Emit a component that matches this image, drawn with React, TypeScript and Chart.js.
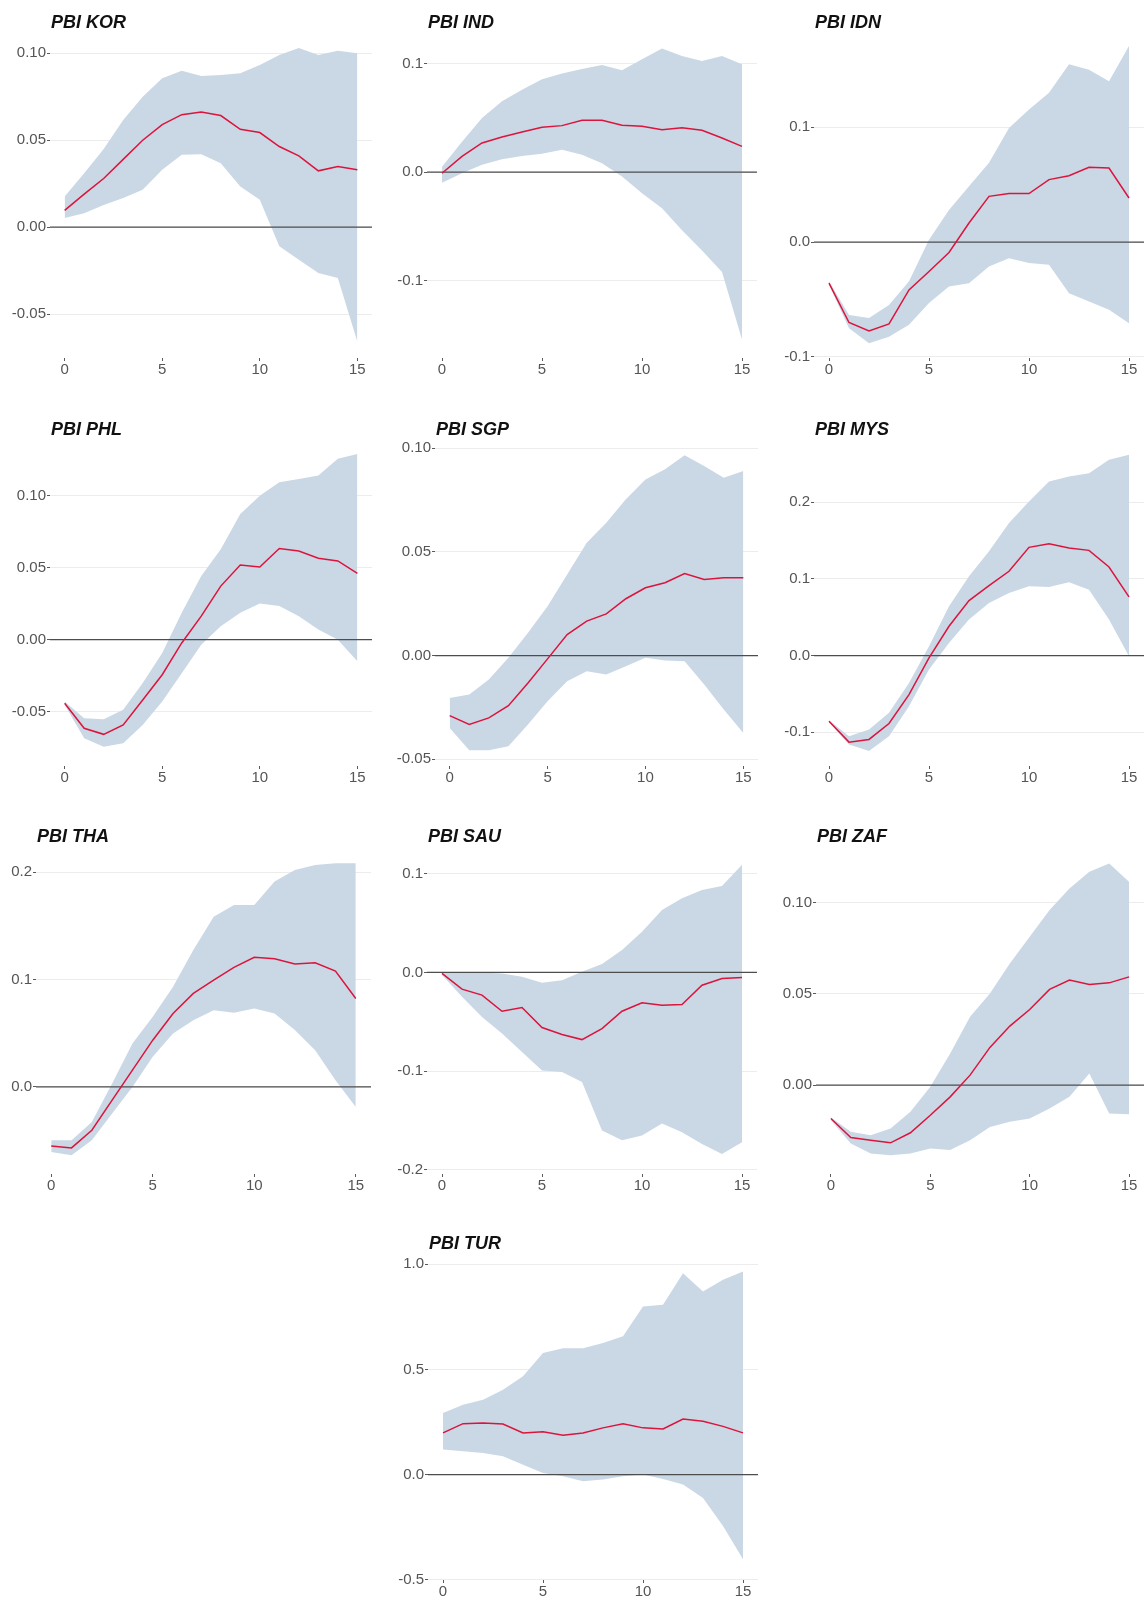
import React, { useEffect, useRef } from "react";
import { Chart, registerables } from "chart.js";

Chart.register(...registerables);

// ---------------- data ----------------
const HORIZON = [0, 1, 2, 3, 4, 5, 6, 7, 8, 9, 10, 11, 12, 13, 14, 15];
const X_TICKS = [0, 5, 10, 15];

const KOR_IRF = [0.0096, 0.019, 0.028, 0.039, 0.05, 0.059, 0.0647, 0.0663, 0.0642, 0.0563, 0.0544, 0.0464, 0.041, 0.0324, 0.0349, 0.033];
const KOR_HI = [0.0176, 0.031, 0.045, 0.0617, 0.075, 0.0857, 0.09, 0.087, 0.0876, 0.0885, 0.0933, 0.099, 0.103, 0.099, 0.1015, 0.1];
const KOR_LO = [0.0052, 0.008, 0.0128, 0.0167, 0.0215, 0.033, 0.0416, 0.042, 0.0368, 0.0234, 0.0157, -0.011, -0.0188, -0.0264, -0.0293, -0.066];

const IND_IRF = [-0.001, 0.0145, 0.0269, 0.0324, 0.037, 0.0414, 0.0429, 0.0478, 0.0478, 0.0432, 0.0423, 0.039, 0.041, 0.0386, 0.0315, 0.0238];
const IND_HI = [0.005, 0.028, 0.05, 0.0654, 0.076, 0.0855, 0.091, 0.095, 0.0988, 0.094, 0.104, 0.114, 0.107, 0.1025, 0.107, 0.0994];
const IND_LO = [-0.0096, -0.001, 0.0068, 0.012, 0.015, 0.017, 0.0207, 0.016, 0.0083, -0.004, -0.0194, -0.0333, -0.0534, -0.072, -0.092, -0.154];

const IDN_IRF = [-0.0358, -0.07, -0.0773, -0.0712, -0.0416, -0.0256, -0.009, 0.0166, 0.0398, 0.0422, 0.0422, 0.0544, 0.0578, 0.0651, 0.0645, 0.0384];
const IDN_HI = [-0.034, -0.0634, -0.066, -0.0547, -0.034, 0.002, 0.028, 0.0485, 0.069, 0.0994, 0.1154, 0.13, 0.1547, 0.15, 0.14, 0.1706];
const IDN_LO = [-0.0372, -0.075, -0.088, -0.0823, -0.072, -0.053, -0.0387, -0.0358, -0.0212, -0.014, -0.0183, -0.0198, -0.0445, -0.0517, -0.059, -0.0706];

const PHL_IRF = [-0.0442, -0.0616, -0.0658, -0.0593, -0.0419, -0.0244, -0.0023, 0.0163, 0.0372, 0.0519, 0.0505, 0.0633, 0.0616, 0.0565, 0.0547, 0.046];
const PHL_HI = [-0.043, -0.0547, -0.0553, -0.0488, -0.0302, -0.0093, 0.0186, 0.0442, 0.0628, 0.0872, 0.1, 0.1093, 0.1116, 0.114, 0.1256, 0.129];
const PHL_LO = [-0.0453, -0.0686, -0.0744, -0.072, -0.0593, -0.043, -0.0233, -0.0035, 0.0093, 0.0186, 0.0251, 0.0233, 0.0163, 0.007, 0.0, -0.0151];

const SGP_IRF = [-0.029, -0.0333, -0.0301, -0.0242, -0.0132, -0.0016, 0.0101, 0.0166, 0.0201, 0.0274, 0.0327, 0.0351, 0.0396, 0.0367, 0.0375, 0.0375];
const SGP_HI = [-0.0205, -0.0188, -0.0116, -0.0011, 0.011, 0.0238, 0.0391, 0.0544, 0.0641, 0.0754, 0.085, 0.0899, 0.0966, 0.0915, 0.0858, 0.089];
const SGP_LO = [-0.035, -0.0457, -0.0457, -0.0438, -0.0333, -0.022, -0.0124, -0.0076, -0.0092, -0.0052, -0.0011, -0.0024, -0.0027, -0.014, -0.026, -0.0374];

const MYS_IRF = [-0.0855, -0.1128, -0.1093, -0.0885, -0.0508, -0.003, 0.0382, 0.0716, 0.0911, 0.1098, 0.141, 0.1458, 0.1401, 0.1371, 0.1154, 0.0764];
const MYS_HI = [-0.0842, -0.105, -0.0963, -0.0746, -0.0356, 0.0121, 0.0642, 0.1033, 0.1358, 0.1727, 0.2009, 0.2269, 0.2334, 0.2377, 0.2551, 0.2616];
const MYS_LO = [-0.0868, -0.1158, -0.1245, -0.105, -0.0659, -0.0182, 0.0165, 0.0469, 0.0685, 0.0816, 0.0902, 0.0894, 0.0954, 0.0859, 0.0469, -0.001];

const THA_IRF = [-0.055, -0.0569, -0.0404, -0.0124, 0.0156, 0.0435, 0.0684, 0.0871, 0.0995, 0.1114, 0.1207, 0.1194, 0.1145, 0.1157, 0.1079, 0.0824];
const THA_HI = [-0.0498, -0.0498, -0.0327, 0.0031, 0.0404, 0.0653, 0.0933, 0.1275, 0.1586, 0.1695, 0.1695, 0.1913, 0.2022, 0.2068, 0.2084, 0.2084];
const THA_LO = [-0.0607, -0.0638, -0.0498, -0.0249, 0.0, 0.028, 0.0498, 0.0622, 0.0715, 0.069, 0.0731, 0.0684, 0.0529, 0.0342, 0.0062, -0.0187];

const SAU_IRF = [-0.001, -0.0169, -0.023, -0.0393, -0.0355, -0.0558, -0.0629, -0.068, -0.0569, -0.0393, -0.0308, -0.0332, -0.0325, -0.0129, -0.0061, -0.0051];
const SAU_HI = [0.0, 0.0, 0.0, -0.001, -0.0044, -0.0105, -0.0078, 0.0007, 0.0085, 0.0227, 0.0413, 0.0633, 0.0751, 0.0836, 0.0876, 0.109];
const SAU_LO = [-0.0027, -0.0247, -0.045, -0.0619, -0.0805, -0.0992, -0.1008, -0.111, -0.16, -0.17, -0.165, -0.153, -0.1618, -0.1736, -0.1838, -0.172];

const ZAF_IRF = [-0.0183, -0.0287, -0.0302, -0.0316, -0.0261, -0.0165, -0.0064, 0.0055, 0.0207, 0.0324, 0.0415, 0.0525, 0.0576, 0.0552, 0.0561, 0.0594];
const ZAF_HI = [-0.0177, -0.0256, -0.0274, -0.0238, -0.0146, -0.0009, 0.0174, 0.0375, 0.0503, 0.0667, 0.0814, 0.096, 0.1079, 0.117, 0.1216, 0.1115];
const ZAF_LO = [-0.0192, -0.032, -0.0375, -0.0384, -0.0375, -0.0347, -0.0356, -0.0302, -0.0229, -0.0201, -0.0183, -0.0128, -0.0064, 0.0064, -0.0155, -0.0159];

const TUR_IRF = [0.198, 0.242, 0.245, 0.24, 0.198, 0.204, 0.187, 0.198, 0.222, 0.242, 0.222, 0.217, 0.264, 0.253, 0.229, 0.198];
const TUR_HI = [0.293, 0.332, 0.356, 0.403, 0.467, 0.578, 0.601, 0.601, 0.625, 0.657, 0.799, 0.807, 0.957, 0.87, 0.926, 0.965];
const TUR_LO = [0.119, 0.111, 0.103, 0.087, 0.047, 0.008, -0.008, -0.032, -0.024, -0.008, 0.0, -0.021, -0.047, -0.111, -0.245, -0.403];

const TICKS_2A = [-0.05, 0, 0.05, 0.1];
const TICKS_1A = [-0.1, 0, 0.1];
const TICKS_1B = [-0.1, 0, 0.1, 0.2];
const TICKS_1C = [0, 0.1, 0.2];
const TICKS_1D = [-0.2, -0.1, 0, 0.1];
const TICKS_2B = [0, 0.05, 0.1];
const TICKS_TUR = [-0.5, 0, 0.5, 1.0];

// ---------------- layout / style ----------------
const BAND = "#cad8e6";
const LINE = "#dc143c";
const FONT = "'Liberation Sans', Arial, Helvetica, sans-serif";
const YW = 44;
const PT = 14;
const PR = 12;
const XH = 30;

type PanelCfg = {
  title: string;
  irf: number[];
  lo: number[];
  hi: number[];
  yTicks: number[];
  dec: number;
  yMin: number;
  yMax: number;
  L: number;
  R: number;
  T: number;
  B: number;
  titleY: number;
};

const PANELS: PanelCfg[] = [
  { title: "PBI KOR", irf: KOR_IRF, lo: KOR_LO, hi: KOR_HI, yTicks: TICKS_2A, dec: 2, yMin: -0.0753, yMax: 0.1117, L: 50, R: 372, T: 33, B: 358, titleY: 21.5 },
  { title: "PBI IND", irf: IND_IRF, lo: IND_LO, hi: IND_HI, yTicks: TICKS_1A, dec: 1, yMin: -0.1711, yMax: 0.1282, L: 427, R: 757, T: 33, B: 358, titleY: 21.5 },
  { title: "PBI IDN", irf: IDN_IRF, lo: IDN_LO, hi: IDN_HI, yTicks: TICKS_1A, dec: 1, yMin: -0.1009, yMax: 0.182, L: 814, R: 1144, T: 33, B: 358, titleY: 21.5 },
  { title: "PBI PHL", irf: PHL_IRF, lo: PHL_LO, hi: PHL_HI, yTicks: TICKS_2A, dec: 2, yMin: -0.0878, yMax: 0.1387, L: 50, R: 372, T: 440, B: 766, titleY: 428.5 },
  { title: "PBI SGP", irf: SGP_IRF, lo: SGP_LO, hi: SGP_HI, yTicks: TICKS_2A, dec: 2, yMin: -0.0533, yMax: 0.104, L: 435, R: 758, T: 440, B: 766, titleY: 428.5 },
  { title: "PBI MYS", irf: MYS_IRF, lo: MYS_LO, hi: MYS_HI, yTicks: TICKS_1B, dec: 1, yMin: -0.1439, yMax: 0.2809, L: 814, R: 1144, T: 440, B: 766, titleY: 428.5 },
  { title: "PBI THA", irf: THA_IRF, lo: THA_LO, hi: THA_HI, yTicks: TICKS_1C, dec: 1, yMin: -0.0812, yMax: 0.2217, L: 36, R: 371, T: 849, B: 1174, titleY: 836 },
  { title: "PBI SAU", irf: SAU_IRF, lo: SAU_LO, hi: SAU_HI, yTicks: TICKS_1D, dec: 1, yMin: -0.2041, yMax: 0.125, L: 427, R: 757, T: 849, B: 1174, titleY: 836 },
  { title: "PBI ZAF", irf: ZAF_IRF, lo: ZAF_LO, hi: ZAF_HI, yTicks: TICKS_2B, dec: 2, yMin: -0.0487, yMax: 0.1295, L: 816, R: 1144, T: 849, B: 1174, titleY: 836 },
  { title: "PBI TUR", irf: TUR_IRF, lo: TUR_LO, hi: TUR_HI, yTicks: TICKS_TUR, dec: 1, yMin: -0.5012, yMax: 1.0342, L: 428, R: 758, T: 1257, B: 1580, titleY: 1242.5 },
];

const zeroLine = {
  id: "zeroLine",
  beforeDatasetDraw(chart: any, args: any) {
    if (args.index !== 0) return;
    const { ctx, chartArea, scales } = chart;
    const py = scales.y.getPixelForValue(0);
    ctx.save();
    ctx.strokeStyle = "#4d4d4d";
    ctx.lineWidth = 1.3;
    ctx.beginPath();
    ctx.moveTo(chartArea.left, py);
    ctx.lineTo(chartArea.right, py);
    ctx.stroke();
    ctx.restore();
  },
};

function pts(vals: number[]) {
  return HORIZON.map((h, i) => ({ x: h, y: vals[i] }));
}

function Panel({ cfg }: { cfg: PanelCfg }) {
  const ref = useRef<HTMLCanvasElement | null>(null);
  const w = cfg.R - cfg.L + YW + PR;
  const h = cfg.B - cfg.T + PT + XH;

  useEffect(() => {
    if (!ref.current) return;
    const chart = new Chart(ref.current, {
      type: "line",
      data: {
        datasets: [
          { data: pts(cfg.irf), borderColor: LINE, borderWidth: 1.5, pointRadius: 0, fill: false, tension: 0 },
          { data: pts(cfg.hi), borderWidth: 0, borderColor: "rgba(0,0,0,0)", pointRadius: 0, backgroundColor: BAND, fill: "+1", tension: 0 },
          { data: pts(cfg.lo), borderWidth: 0, borderColor: "rgba(0,0,0,0)", pointRadius: 0, fill: false, tension: 0 },
        ],
      } as any,
      options: {
        animation: false,
        responsive: false,
        events: [],
        layout: { padding: { top: PT, right: PR, left: 0, bottom: 0 } },
        plugins: { legend: { display: false }, tooltip: { enabled: false }, title: { display: false } },
        scales: {
          x: {
            type: "linear",
            min: -0.75,
            max: 15.75,
            afterBuildTicks: (a: any) => {
              a.ticks = X_TICKS.map((v) => ({ value: v }));
            },
            afterFit: (a: any) => {
              a.height = XH;
            },
            grid: { drawOnChartArea: false, drawTicks: true, tickLength: 3, tickColor: "#5a5a5a", tickWidth: 1 },
            border: { display: false },
            ticks: {
              font: { family: FONT, size: 15 },
              color: "#555555",
              padding: 0,
              maxRotation: 0,
              autoSkip: false,
              callback: (v: any) => String(v),
            },
          },
          y: {
            type: "linear",
            min: cfg.yMin,
            max: cfg.yMax,
            afterBuildTicks: (a: any) => {
              a.ticks = cfg.yTicks.map((v) => ({ value: v }));
            },
            afterFit: (a: any) => {
              a.width = YW;
            },
            grid: { color: "#ececec", lineWidth: 1, drawTicks: true, tickLength: 3, tickColor: "#5a5a5a", tickWidth: 1 },
            border: { display: false },
            ticks: {
              font: { family: FONT, size: 15 },
              color: "#555555",
              padding: 1,
              autoSkip: false,
              callback: (v: any) => Number(v).toFixed(cfg.dec),
            },
          },
        },
      } as any,
      plugins: [zeroLine],
    });
    return () => chart.destroy();
  }, [cfg]);

  return (
    <>
      <canvas
        ref={ref}
        width={w}
        height={h}
        style={{ position: "absolute", left: cfg.L - YW, top: cfg.T - PT, width: w, height: h }}
      />
      <div
        style={{
          position: "absolute",
          left: cfg.L + 1,
          top: cfg.titleY - 11,
          height: 22,
          lineHeight: "22px",
          fontFamily: FONT,
          fontSize: 18,
          fontWeight: "bold",
          fontStyle: "italic",
          color: "#111",
          whiteSpace: "nowrap",
        }}
      >
        {cfg.title}
      </div>
    </>
  );
}

export default function App() {
  return (
    <div style={{ position: "absolute", left: 0, top: 0, width: 1146, height: 1601, background: "#fff", overflow: "hidden" }}>
      {PANELS.map((p) => (
        <Panel key={p.title} cfg={p} />
      ))}
    </div>
  );
}
